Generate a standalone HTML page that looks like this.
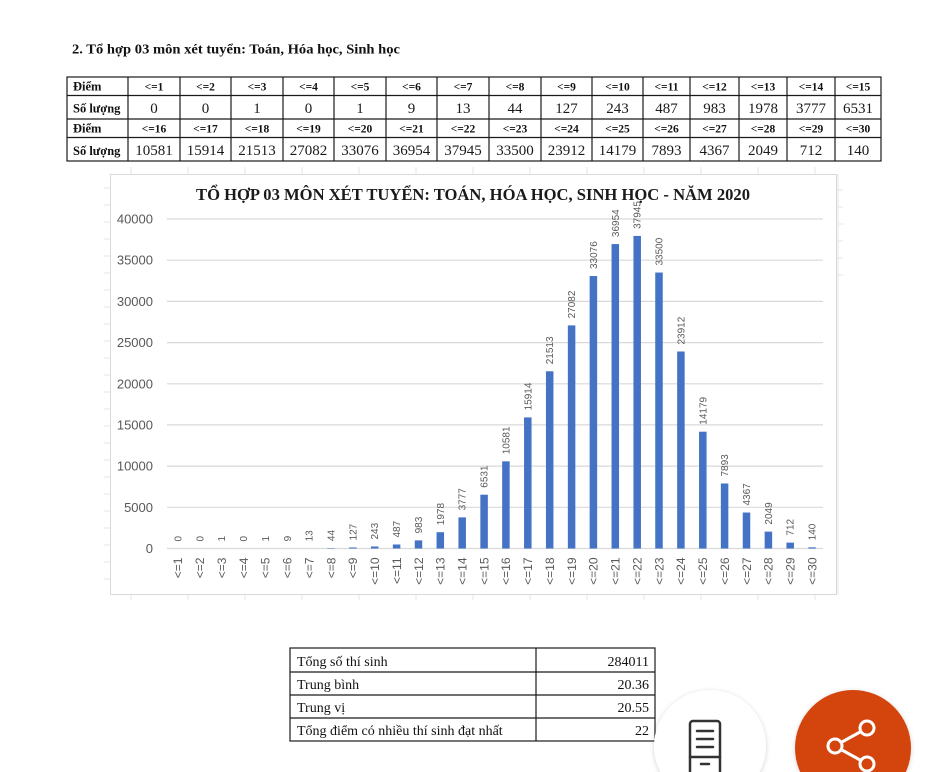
<!DOCTYPE html>
<html><head><meta charset="utf-8">
<style>
html,body{margin:0;padding:0;background:#fff;}
svg{display:block;}
.hd{font-family:"Liberation Serif",serif;font-weight:bold;font-size:11.5px;fill:#111;text-anchor:middle;}
.nm{font-family:"Liberation Serif",serif;font-size:15px;fill:#1a1a1a;text-anchor:middle;}
.rl{font-family:"Liberation Serif",serif;font-weight:bold;font-size:12.5px;fill:#111;}
.yl{font-family:"Liberation Sans",sans-serif;font-size:13px;fill:#595959;text-anchor:end;}
.xl{font-family:"Liberation Sans",sans-serif;font-size:12px;fill:#595959;text-anchor:end;}
.dl{font-family:"Liberation Sans",sans-serif;font-size:10px;fill:#595959;text-anchor:start;}
.st{font-family:"Liberation Serif",serif;font-size:14px;fill:#111;}
</style></head>
<body>
<svg width="945" height="772" viewBox="0 0 945 772" xmlns="http://www.w3.org/2000/svg">
<defs>
<filter id="sh" x="-30%" y="-30%" width="160%" height="160%">
<feDropShadow dx="0" dy="1" stdDeviation="2.5" flood-color="#000" flood-opacity="0.18"/>
</filter>
</defs>
<rect width="945" height="772" fill="#fff"/>

<!-- heading -->
<text x="72" y="53.5" font-family="Liberation Serif, serif" font-weight="bold" font-size="14" fill="#111" textLength="328" lengthAdjust="spacingAndGlyphs">2. Tổ hợp 03 môn xét tuyển: Toán, Hóa học, Sinh học</text>

<!-- table 1 -->
<g stroke="#1a1a1a" stroke-width="1.2" fill="none">
<rect x="67" y="77" width="814" height="84"/>
<line x1="67" y1="95.5" x2="881" y2="95.5"/>
<line x1="67" y1="119" x2="881" y2="119"/>
<line x1="67" y1="137.5" x2="881" y2="137.5"/>
<line x1="128" y1="77" x2="128" y2="161"/>
<line x1="180" y1="77" x2="180" y2="161"/>
<line x1="231" y1="77" x2="231" y2="161"/>
<line x1="283" y1="77" x2="283" y2="161"/>
<line x1="334" y1="77" x2="334" y2="161"/>
<line x1="386" y1="77" x2="386" y2="161"/>
<line x1="437" y1="77" x2="437" y2="161"/>
<line x1="489" y1="77" x2="489" y2="161"/>
<line x1="541" y1="77" x2="541" y2="161"/>
<line x1="592" y1="77" x2="592" y2="161"/>
<line x1="643" y1="77" x2="643" y2="161"/>
<line x1="690" y1="77" x2="690" y2="161"/>
<line x1="739" y1="77" x2="739" y2="161"/>
<line x1="787" y1="77" x2="787" y2="161"/>
<line x1="835" y1="77" x2="835" y2="161"/>
</g>
<text class="rl" x="73" y="90.5">Điểm</text>
<text class="rl" x="73" y="112.5">Số lượng</text>
<text class="rl" x="73" y="132.5">Điểm</text>
<text class="rl" x="73" y="155">Số lượng</text>

<g class="hd">
<text x="154" y="90.5">&lt;=1</text><text x="205.5" y="90.5">&lt;=2</text><text x="257" y="90.5">&lt;=3</text><text x="308.5" y="90.5">&lt;=4</text><text x="360" y="90.5">&lt;=5</text><text x="411.5" y="90.5">&lt;=6</text><text x="463" y="90.5">&lt;=7</text><text x="515" y="90.5">&lt;=8</text><text x="566.5" y="90.5">&lt;=9</text><text x="617.5" y="90.5">&lt;=10</text><text x="666.5" y="90.5">&lt;=11</text><text x="714.5" y="90.5">&lt;=12</text><text x="763" y="90.5">&lt;=13</text><text x="811" y="90.5">&lt;=14</text><text x="858" y="90.5">&lt;=15</text>
<text x="154" y="132.5">&lt;=16</text><text x="205.5" y="132.5">&lt;=17</text><text x="257" y="132.5">&lt;=18</text><text x="308.5" y="132.5">&lt;=19</text><text x="360" y="132.5">&lt;=20</text><text x="411.5" y="132.5">&lt;=21</text><text x="463" y="132.5">&lt;=22</text><text x="515" y="132.5">&lt;=23</text><text x="566.5" y="132.5">&lt;=24</text><text x="617.5" y="132.5">&lt;=25</text><text x="666.5" y="132.5">&lt;=26</text><text x="714.5" y="132.5">&lt;=27</text><text x="763" y="132.5">&lt;=28</text><text x="811" y="132.5">&lt;=29</text><text x="858" y="132.5">&lt;=30</text>
</g>
<g class="nm">
<text x="154" y="113">0</text><text x="205.5" y="113">0</text><text x="257" y="113">1</text><text x="308.5" y="113">0</text><text x="360" y="113">1</text><text x="411.5" y="113">9</text><text x="463" y="113">13</text><text x="515" y="113">44</text><text x="566.5" y="113">127</text><text x="617.5" y="113">243</text><text x="666.5" y="113">487</text><text x="714.5" y="113">983</text><text x="763" y="113">1978</text><text x="811" y="113">3777</text><text x="858" y="113">6531</text>
<text x="154" y="155">10581</text><text x="205.5" y="155">15914</text><text x="257" y="155">21513</text><text x="308.5" y="155">27082</text><text x="360" y="155">33076</text><text x="411.5" y="155">36954</text><text x="463" y="155">37945</text><text x="515" y="155">33500</text><text x="566.5" y="155">23912</text><text x="617.5" y="155">14179</text><text x="666.5" y="155">7893</text><text x="714.5" y="155">4367</text><text x="763" y="155">2049</text><text x="811" y="155">712</text><text x="858" y="155">140</text>
</g>

<!-- faint spreadsheet gridlines around chart -->
<g stroke="#e4e4e4" stroke-width="1">
<line x1="131" y1="167" x2="131" y2="174"/><line x1="188" y1="167" x2="188" y2="174"/><line x1="245" y1="167" x2="245" y2="174"/><line x1="302" y1="167" x2="302" y2="174"/><line x1="359" y1="167" x2="359" y2="174"/><line x1="416" y1="167" x2="416" y2="174"/><line x1="473" y1="167" x2="473" y2="174"/><line x1="530" y1="167" x2="530" y2="174"/><line x1="587" y1="167" x2="587" y2="174"/><line x1="644" y1="167" x2="644" y2="174"/><line x1="701" y1="167" x2="701" y2="174"/><line x1="758" y1="167" x2="758" y2="174"/><line x1="815" y1="167" x2="815" y2="174"/>
<line x1="131" y1="594" x2="131" y2="600"/><line x1="188" y1="594" x2="188" y2="600"/><line x1="245" y1="594" x2="245" y2="600"/><line x1="302" y1="594" x2="302" y2="600"/><line x1="359" y1="594" x2="359" y2="600"/><line x1="416" y1="594" x2="416" y2="600"/><line x1="473" y1="594" x2="473" y2="600"/><line x1="530" y1="594" x2="530" y2="600"/><line x1="587" y1="594" x2="587" y2="600"/><line x1="644" y1="594" x2="644" y2="600"/><line x1="701" y1="594" x2="701" y2="600"/><line x1="758" y1="594" x2="758" y2="600"/><line x1="815" y1="594" x2="815" y2="600"/>
<line x1="838" y1="174" x2="838" y2="594"/>
<line x1="104" y1="188" x2="110" y2="188"/><line x1="104" y1="205" x2="110" y2="205"/><line x1="104" y1="222" x2="110" y2="222"/><line x1="104" y1="239" x2="110" y2="239"/><line x1="104" y1="256" x2="110" y2="256"/><line x1="104" y1="273" x2="110" y2="273"/><line x1="104" y1="290" x2="110" y2="290"/><line x1="104" y1="307" x2="110" y2="307"/><line x1="104" y1="324" x2="110" y2="324"/><line x1="104" y1="341" x2="110" y2="341"/><line x1="104" y1="358" x2="110" y2="358"/><line x1="104" y1="375" x2="110" y2="375"/><line x1="104" y1="392" x2="110" y2="392"/><line x1="104" y1="409" x2="110" y2="409"/><line x1="104" y1="426" x2="110" y2="426"/><line x1="104" y1="443" x2="110" y2="443"/><line x1="104" y1="460" x2="110" y2="460"/><line x1="104" y1="477" x2="110" y2="477"/><line x1="104" y1="494" x2="110" y2="494"/><line x1="104" y1="511" x2="110" y2="511"/><line x1="104" y1="528" x2="110" y2="528"/><line x1="104" y1="545" x2="110" y2="545"/><line x1="104" y1="562" x2="110" y2="562"/><line x1="104" y1="579" x2="110" y2="579"/>
<line x1="838" y1="190" x2="843" y2="190"/><line x1="838" y1="207" x2="843" y2="207"/><line x1="838" y1="224" x2="843" y2="224"/><line x1="838" y1="241" x2="843" y2="241"/><line x1="838" y1="258" x2="843" y2="258"/><line x1="838" y1="275" x2="843" y2="275"/>
</g>

<!-- chart box -->
<rect x="110.5" y="174.5" width="726" height="420" fill="#fff" stroke="#d9d9d9" stroke-width="1"/>

<text x="196" y="200" font-family="Liberation Serif, serif" font-weight="bold" font-size="17" fill="#1a1a1a" textLength="554" lengthAdjust="spacingAndGlyphs">TỔ HỢP 03 MÔN XÉT TUYỂN: TOÁN, HÓA HỌC, SINH HỌC - NĂM 2020</text>

<!-- gridlines -->
<g stroke="#d9d9d9" stroke-width="1.2">
<line x1="167" y1="219" x2="823" y2="219"/>
<line x1="167" y1="260.2" x2="823" y2="260.2"/>
<line x1="167" y1="301.4" x2="823" y2="301.4"/>
<line x1="167" y1="342.6" x2="823" y2="342.6"/>
<line x1="167" y1="383.8" x2="823" y2="383.8"/>
<line x1="167" y1="424.9" x2="823" y2="424.9"/>
<line x1="167" y1="466.1" x2="823" y2="466.1"/>
<line x1="167" y1="507.3" x2="823" y2="507.3"/>
<line x1="167" y1="548.5" x2="823" y2="548.5"/>
</g>
<g class="yl">
<text x="153" y="223.5">40000</text>
<text x="153" y="264.7">35000</text>
<text x="153" y="305.9">30000</text>
<text x="153" y="347.1">25000</text>
<text x="153" y="388.3">20000</text>
<text x="153" y="429.4">15000</text>
<text x="153" y="470.6">10000</text>
<text x="153" y="511.8">5000</text>
<text x="153" y="553">0</text>
</g>

<!-- bars -->
<g fill="#4472C4">
<rect x="327.25" y="548.1" width="7.5" height="0.4"/>
<rect x="349.15" y="547.45" width="7.5" height="1.05"/>
<rect x="370.95" y="546.5" width="7.5" height="2.0"/>
<rect x="392.85" y="544.49" width="7.5" height="4.01"/>
<rect x="414.75" y="540.4" width="7.5" height="8.1"/>
<rect x="436.55" y="532.21" width="7.5" height="16.29"/>
<rect x="458.45" y="517.39" width="7.5" height="31.11"/>
<rect x="480.35" y="494.7" width="7.5" height="53.8"/>
<rect x="502.15" y="461.34" width="7.5" height="87.16"/>
<rect x="524.05" y="417.41" width="7.5" height="131.09"/>
<rect x="545.95" y="371.29" width="7.5" height="177.21"/>
<rect x="567.85" y="325.41" width="7.5" height="223.09"/>
<rect x="589.65" y="276.04" width="7.5" height="272.46"/>
<rect x="611.55" y="244.09" width="7.5" height="304.41"/>
<rect x="633.45" y="235.93" width="7.5" height="312.57"/>
<rect x="655.25" y="272.54" width="7.5" height="275.96"/>
<rect x="677.15" y="351.52" width="7.5" height="196.98"/>
<rect x="699.05" y="431.7" width="7.5" height="116.8"/>
<rect x="720.85" y="483.48" width="7.5" height="65.02"/>
<rect x="742.75" y="512.53" width="7.5" height="35.97"/>
<rect x="764.65" y="531.62" width="7.5" height="16.88"/>
<rect x="786.45" y="542.63" width="7.5" height="5.87"/>
<rect x="808.35" y="547.35" width="7.5" height="1.15"/>
</g>

<!-- data labels -->
<g class="dl">
<text transform="translate(181.4,541.5) rotate(-90)">0</text>
<text transform="translate(203.3,541.5) rotate(-90)">0</text>
<text transform="translate(225.2,541.5) rotate(-90)">1</text>
<text transform="translate(247.0,541.5) rotate(-90)">0</text>
<text transform="translate(268.9,541.5) rotate(-90)">1</text>
<text transform="translate(290.8,541.4) rotate(-90)">9</text>
<text transform="translate(312.6,541.4) rotate(-90)">13</text>
<text transform="translate(334.5,541.1) rotate(-90)">44</text>
<text transform="translate(356.4,540.45) rotate(-90)">127</text>
<text transform="translate(378.2,539.5) rotate(-90)">243</text>
<text transform="translate(400.1,537.5) rotate(-90)">487</text>
<text transform="translate(422.0,533.4) rotate(-90)">983</text>
<text transform="translate(443.8,525.2) rotate(-90)">1978</text>
<text transform="translate(465.7,510.4) rotate(-90)">3777</text>
<text transform="translate(487.6,487.7) rotate(-90)">6531</text>
<text transform="translate(509.4,454.3) rotate(-90)">10581</text>
<text transform="translate(531.3,410.4) rotate(-90)">15914</text>
<text transform="translate(553.2,364.3) rotate(-90)">21513</text>
<text transform="translate(575.1,318.4) rotate(-90)">27082</text>
<text transform="translate(596.9,269.0) rotate(-90)">33076</text>
<text transform="translate(618.8,237.1) rotate(-90)">36954</text>
<text transform="translate(640.7,228.9) rotate(-90)">37945</text>
<text transform="translate(662.5,265.5) rotate(-90)">33500</text>
<text transform="translate(684.4,344.5) rotate(-90)">23912</text>
<text transform="translate(706.3,424.7) rotate(-90)">14179</text>
<text transform="translate(728.1,476.5) rotate(-90)">7893</text>
<text transform="translate(750.0,505.5) rotate(-90)">4367</text>
<text transform="translate(771.9,524.6) rotate(-90)">2049</text>
<text transform="translate(793.7,535.6) rotate(-90)">712</text>
<text transform="translate(815.6,540.35) rotate(-90)">140</text>
</g>

<!-- x labels -->
<g class="xl">
<text transform="translate(182.2,557.5) rotate(-90)">&lt;=1</text>
<text transform="translate(204.1,557.5) rotate(-90)">&lt;=2</text>
<text transform="translate(226.0,557.5) rotate(-90)">&lt;=3</text>
<text transform="translate(247.8,557.5) rotate(-90)">&lt;=4</text>
<text transform="translate(269.7,557.5) rotate(-90)">&lt;=5</text>
<text transform="translate(291.6,557.5) rotate(-90)">&lt;=6</text>
<text transform="translate(313.4,557.5) rotate(-90)">&lt;=7</text>
<text transform="translate(335.3,557.5) rotate(-90)">&lt;=8</text>
<text transform="translate(357.2,557.5) rotate(-90)">&lt;=9</text>
<text transform="translate(379.0,557.5) rotate(-90)">&lt;=10</text>
<text transform="translate(400.9,557.5) rotate(-90)">&lt;=11</text>
<text transform="translate(422.8,557.5) rotate(-90)">&lt;=12</text>
<text transform="translate(444.6,557.5) rotate(-90)">&lt;=13</text>
<text transform="translate(466.5,557.5) rotate(-90)">&lt;=14</text>
<text transform="translate(488.4,557.5) rotate(-90)">&lt;=15</text>
<text transform="translate(510.2,557.5) rotate(-90)">&lt;=16</text>
<text transform="translate(532.1,557.5) rotate(-90)">&lt;=17</text>
<text transform="translate(554.0,557.5) rotate(-90)">&lt;=18</text>
<text transform="translate(575.9,557.5) rotate(-90)">&lt;=19</text>
<text transform="translate(597.7,557.5) rotate(-90)">&lt;=20</text>
<text transform="translate(619.6,557.5) rotate(-90)">&lt;=21</text>
<text transform="translate(641.5,557.5) rotate(-90)">&lt;=22</text>
<text transform="translate(663.3,557.5) rotate(-90)">&lt;=23</text>
<text transform="translate(685.2,557.5) rotate(-90)">&lt;=24</text>
<text transform="translate(707.1,557.5) rotate(-90)">&lt;=25</text>
<text transform="translate(728.9,557.5) rotate(-90)">&lt;=26</text>
<text transform="translate(750.8,557.5) rotate(-90)">&lt;=27</text>
<text transform="translate(772.7,557.5) rotate(-90)">&lt;=28</text>
<text transform="translate(794.5,557.5) rotate(-90)">&lt;=29</text>
<text transform="translate(816.4,557.5) rotate(-90)">&lt;=30</text>
</g>

<!-- stats table -->
<g stroke="#1a1a1a" stroke-width="1.2" fill="none">
<rect x="290" y="648" width="365" height="93"/>
<line x1="290" y1="672" x2="655" y2="672"/>
<line x1="290" y1="695" x2="655" y2="695"/>
<line x1="290" y1="718" x2="655" y2="718"/>
<line x1="536" y1="648" x2="536" y2="741"/>
</g>
<g class="st">
<text x="297" y="666">Tổng số thí sinh</text>
<text x="297" y="689">Trung bình</text>
<text x="297" y="712">Trung vị</text>
<text x="297" y="735">Tổng điểm có nhiều thí sinh đạt nhất</text>
<text x="649" y="666" text-anchor="end">284011</text>
<text x="649" y="689" text-anchor="end">20.36</text>
<text x="649" y="712" text-anchor="end">20.55</text>
<text x="649" y="735" text-anchor="end">22</text>
</g>

<!-- floating buttons -->
<circle cx="710" cy="746" r="56" fill="#fff" filter="url(#sh)"/>
<g fill="none" stroke="#333" stroke-width="2.5" stroke-linecap="round">
<rect x="690" y="721" width="30" height="56" rx="3"/>
<line x1="697" y1="731" x2="713" y2="731"/>
<line x1="697" y1="739" x2="713" y2="739"/>
<line x1="697" y1="747" x2="713" y2="747"/>
<line x1="690" y1="757" x2="720" y2="757"/>
<line x1="701" y1="764" x2="709" y2="764"/>
</g>
<circle cx="853" cy="748" r="58" fill="#D4450C" filter="url(#sh)"/>
<g fill="none" stroke="#fff" stroke-width="3">
<line x1="841" y1="742.5" x2="861" y2="731.5"/>
<line x1="841" y1="749.5" x2="861" y2="760.5"/>
<circle cx="867" cy="728" r="7"/>
<circle cx="835" cy="746" r="7"/>
<circle cx="867" cy="764" r="7"/>
</g>
</svg>
</body></html>
